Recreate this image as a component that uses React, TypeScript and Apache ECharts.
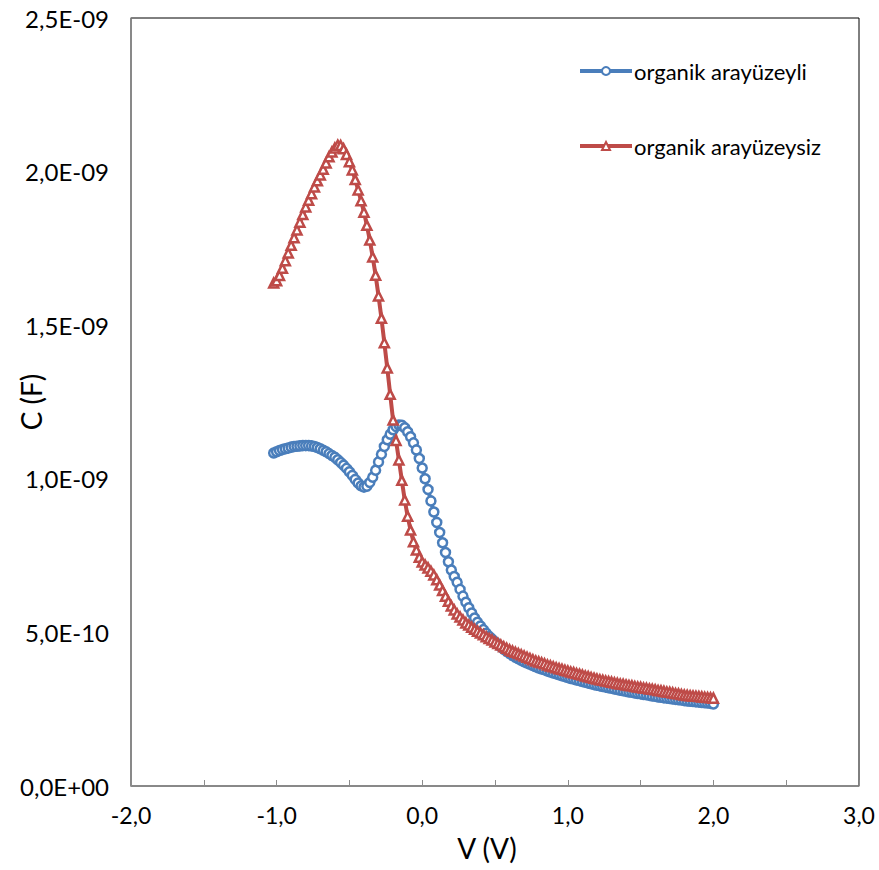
import React, { useEffect, useRef } from "react";
import * as echarts from "echarts";

// Voltage (V)
const voltages = [
  -1.02, -1.0, -0.98, -0.96, -0.94, -0.92, -0.9, -0.88, -0.86, -0.84, -0.82, -0.8, -0.78, -0.76, -0.74, -0.72, -0.7, -0.68, -0.66, -0.64,
  -0.62, -0.6, -0.58, -0.56, -0.54, -0.52, -0.5, -0.48, -0.46, -0.44, -0.42, -0.4, -0.38, -0.36, -0.34, -0.32, -0.3, -0.28, -0.26, -0.24,
  -0.22, -0.2, -0.18, -0.16, -0.14, -0.12, -0.1, -0.08, -0.06, -0.04, -0.02, 0.0, 0.02, 0.04, 0.06, 0.08, 0.1, 0.12, 0.14, 0.16,
  0.18, 0.2, 0.22, 0.24, 0.26, 0.28, 0.3, 0.32, 0.34, 0.36, 0.38, 0.4, 0.42, 0.44, 0.46, 0.48, 0.5, 0.52, 0.54, 0.56,
  0.58, 0.6, 0.62, 0.64, 0.66, 0.68, 0.7, 0.72, 0.74, 0.76, 0.78, 0.8, 0.82, 0.84, 0.86, 0.88, 0.9, 0.92, 0.94, 0.96,
  0.98, 1.0, 1.02, 1.04, 1.06, 1.08, 1.1, 1.12, 1.14, 1.16, 1.18, 1.2, 1.22, 1.24, 1.26, 1.28, 1.3, 1.32, 1.34, 1.36,
  1.38, 1.4, 1.42, 1.44, 1.46, 1.48, 1.5, 1.52, 1.54, 1.56, 1.58, 1.6, 1.62, 1.64, 1.66, 1.68, 1.7, 1.72, 1.74, 1.76,
  1.78, 1.8, 1.82, 1.84, 1.86, 1.88, 1.9, 1.92, 1.94, 1.96, 1.98, 2.0,
];

// C in units of 1e-10 F
const withInterface = [
  10.84, 10.88, 10.92, 10.95, 10.98, 11.0, 11.03, 11.05, 11.06, 11.07, 11.08, 11.08, 11.08, 11.07, 11.05, 11.02, 10.98, 10.93, 10.88, 10.82,
  10.76, 10.7, 10.62, 10.53, 10.44, 10.34, 10.23, 10.11, 9.98, 9.86, 9.77, 9.73, 9.76, 9.88, 10.05, 10.28, 10.55, 10.8, 11.05, 11.27,
  11.45, 11.6, 11.7, 11.75, 11.74, 11.66, 11.53, 11.37, 11.17, 10.94, 10.66, 10.35, 10.0, 9.65, 9.28, 8.92, 8.58, 8.25, 7.92, 7.6,
  7.3, 7.03, 6.82, 6.63, 6.4, 6.18, 5.98, 5.8, 5.63, 5.47, 5.33, 5.21, 5.09, 4.97, 4.87, 4.78, 4.69, 4.61, 4.53, 4.45,
  4.38, 4.31, 4.25, 4.19, 4.14, 4.09, 4.04, 4.0, 3.96, 3.92, 3.88, 3.84, 3.81, 3.78, 3.74, 3.71, 3.68, 3.65, 3.62, 3.59,
  3.56, 3.53, 3.5, 3.48, 3.45, 3.43, 3.4, 3.38, 3.35, 3.33, 3.3, 3.28, 3.26, 3.24, 3.22, 3.2, 3.18, 3.16, 3.14, 3.12,
  3.1, 3.08, 3.06, 3.05, 3.03, 3.01, 3.0, 2.98, 2.97, 2.95, 2.93, 2.92, 2.9, 2.89, 2.87, 2.86, 2.85, 2.83, 2.82, 2.81,
  2.8, 2.78, 2.77, 2.76, 2.75, 2.74, 2.73, 2.72, 2.71, 2.7, 2.69, 2.67,
];

const withoutInterface = [
  16.37, 16.45, 16.62, 16.85, 17.1, 17.35, 17.6, 17.85, 18.1, 18.35, 18.6, 18.85, 19.07, 19.28, 19.5, 19.7, 19.89, 20.08, 20.28, 20.48,
  20.64, 20.77, 20.86, 20.85, 20.74, 20.56, 20.32, 20.05, 19.74, 19.4, 19.05, 18.68, 18.25, 17.77, 17.22, 16.63, 15.95, 15.23, 14.43, 13.61,
  12.75, 11.91, 11.25, 10.61, 9.95, 9.31, 8.78, 8.33, 7.95, 7.68, 7.45, 7.29, 7.19, 7.1, 6.99, 6.87, 6.71, 6.54, 6.36, 6.18,
  6.01, 5.86, 5.73, 5.6, 5.5, 5.4, 5.31, 5.24, 5.17, 5.1, 5.04, 4.98, 4.92, 4.86, 4.8, 4.75, 4.69, 4.64, 4.59, 4.53,
  4.48, 4.43, 4.39, 4.35, 4.31, 4.27, 4.23, 4.19, 4.15, 4.11, 4.07, 4.04, 4.01, 3.98, 3.94, 3.91, 3.88, 3.85, 3.82, 3.8,
  3.77, 3.74, 3.71, 3.69, 3.66, 3.64, 3.61, 3.58, 3.56, 3.53, 3.51, 3.48, 3.46, 3.44, 3.42, 3.4, 3.38, 3.36, 3.34, 3.32,
  3.31, 3.29, 3.27, 3.26, 3.24, 3.22, 3.21, 3.19, 3.18, 3.16, 3.15, 3.13, 3.11, 3.1, 3.08, 3.06, 3.05, 3.03, 3.01, 3.0,
  2.98, 2.96, 2.95, 2.94, 2.93, 2.92, 2.91, 2.9, 2.89, 2.88, 2.87, 2.86,
];

const seriesNames = ["organik arayüzeyli", "organik arayüzeysiz"];
const xAxisName = "V (V)";
const yAxisName = "C (F)";

const FONT = "Lato";

function sciLabel(v: number): string {
  const real = v * 1e-10;
  if (Math.abs(real) < 1e-30) return "0,0E+00";
  let exp = Math.floor(Math.log10(Math.abs(real)) + 1e-9);
  const mant = real / Math.pow(10, exp);
  let m = mant.toFixed(1);
  if (m === "10.0") {
    exp += 1;
    m = "1.0";
  }
  const sign = exp < 0 ? "-" : "+";
  const e = String(Math.abs(exp)).padStart(2, "0");
  return m.replace(".", ",") + "E" + sign + e;
}

export default function App() {
  const ref = useRef<HTMLDivElement>(null);
  useEffect(() => {
    if (!ref.current) return;
    const chart = echarts.init(ref.current, null, { renderer: "svg" });
    const blue = "#4A7EBB";
    const red = "#BE4B48";
    chart.setOption({
      animation: false,
      backgroundColor: "#ffffff",
      textStyle: { fontFamily: FONT },
      grid: {
        left: 131,
        top: 18,
        width: 728,
        height: 768,
        containLabel: false,
        outerBoundsMode: "none",
        show: true,
        borderColor: "#000000",
        borderWidth: 1,
        backgroundColor: "transparent",
      },
      legend: {
        orient: "vertical",
        left: 578,
        top: 60,
        padding: 0,
        itemWidth: 52,
        itemHeight: 10,
        itemGap: 53,
        lineStyle: { width: 4 },
        textStyle: { fontFamily: FONT, fontSize: 22, color: "#000", padding: [0, 0, 0, -3] },
        data: seriesNames,
      },
      graphic: [
        {
          type: "text",
          x: 31,
          y: 402,
          rotation: Math.PI / 2,
          style: {
            text: yAxisName,
            fontFamily: FONT,
            fontSize: 28,
            fill: "#000",
            align: "center",
            verticalAlign: "middle",
          },
        },
      ],
      xAxis: {
        type: "value",
        min: -2,
        max: 3,
        interval: 0.5,
        name: xAxisName,
        nameLocation: "middle",
        nameGap: 48,
        nameTextStyle: { fontFamily: FONT, fontSize: 28, color: "#000", padding: [0, 16, 0, 0] },
        axisLine: { show: true, onZero: false, lineStyle: { color: "#8C8C8C", width: 1.5 } },
        axisTick: { show: true, inside: true, length: 6, lineStyle: { color: "#8C8C8C" } },
        splitLine: { show: false },
        axisLabel: {
          margin: 17,
          fontFamily: FONT,
          fontSize: 23,
          color: "#000",
          formatter: (v: number) => (Math.abs(v - Math.round(v)) < 1e-6 ? v.toFixed(1).replace(".", ",") : ""),
        },
      },
      yAxis: {
        type: "value",
        min: 0,
        max: 25,
        interval: 5,
        axisLine: { show: true, onZero: false, lineStyle: { color: "#8C8C8C", width: 1.5 } },
        axisTick: { show: false },
        splitLine: { show: false },
        axisLabel: {
          margin: 22,
          fontFamily: FONT,
          fontSize: 24,
          color: "#000",
          formatter: (v: number) => sciLabel(v),
        },
      },
      series: [
        {
          name: seriesNames[0],
          type: "line",
          data: voltages.map((x, i) => [x, withInterface[i]]),
          symbol: "circle",
          symbolSize: 9,
          showAllSymbol: true,
          lineStyle: { color: blue, width: 4 },
          itemStyle: { color: "#ffffff", borderColor: blue, borderWidth: 2.5 },
          emphasis: { disabled: true },
        },
        {
          name: seriesNames[1],
          type: "line",
          data: voltages.map((x, i) => [x, withoutInterface[i]]),
          symbol: "triangle",
          symbolSize: 9,
          showAllSymbol: true,
          lineStyle: { color: red, width: 4 },
          itemStyle: { color: "#ffffff", borderColor: red, borderWidth: 2.5 },
          emphasis: { disabled: true },
        },
      ],
    });
    return () => chart.dispose();
  }, []);
  return <div ref={ref} style={{ width: 879, height: 870, position: "absolute", left: 0, top: 0 }} />;
}
